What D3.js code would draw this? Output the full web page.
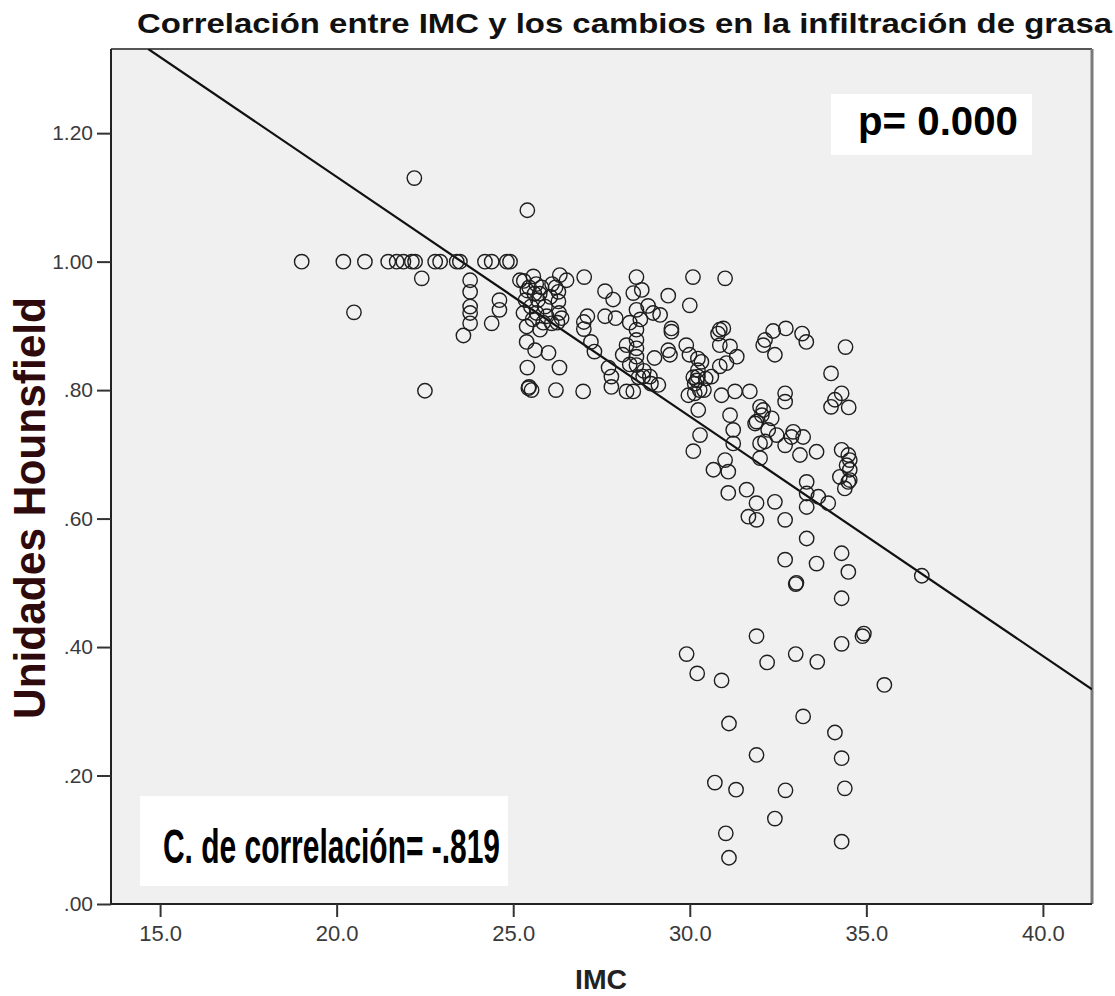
<!DOCTYPE html>
<html>
<head>
<meta charset="utf-8">
<script src="https://cdn.jsdelivr.net/npm/d3@7/dist/d3.min.js"></script>
<style>
  body { margin: 0; background: #fff; }
  svg { display: block; }
</style>
</head>
<body>
<svg></svg>
<script>
const w = 1115
const h = 996

// texts
const titulo = 'Correlación entre IMC y los cambios en la infiltración de grasa'
const etiquetaX = 'IMC'
const etiquetaY = 'Unidades Hounsfield'
const textoP = 'p= 0.000'
const textoCorrelacion = 'C. de correlación= -.819'

// ticks
const xTicks = [15, 20, 25, 30, 35, 40]
const yTicks = [0, 0.2, 0.4, 0.6, 0.8, 1.0, 1.2]

// fit line (y = a + b * x)
const rectaIntercepto = 1.878
const rectaPendiente = -0.0373

// points [IMC, UH], grouped by region of the plot
const puntosFila100 = [
  [19.01, 1.00], [20.19, 1.00], [20.80, 1.00], [21.46, 1.00], [21.70, 1.00], [21.89, 1.00],
  [22.13, 1.00], [22.22, 1.00], [22.79, 1.00], [22.93, 1.00], [23.40, 1.00], [23.49, 1.00],
  [24.20, 1.00], [24.39, 1.00], [24.82, 1.00], [24.91, 1.00]
]

const puntosIzquierda = [
  [22.20, 1.13], [25.40, 1.08], [22.41, 0.974], [23.78, 0.971], [23.78, 0.953], [23.78, 0.930],
  [23.78, 0.920], [23.78, 0.904], [24.61, 0.940], [24.61, 0.925], [24.39, 0.904], [23.59, 0.885],
  [20.49, 0.921], [22.50, 0.799]
]

const puntos25a27 = [
  [25.38, 0.875], [25.62, 0.862], [26.00, 0.858], [25.40, 0.835], [26.31, 0.835], [25.43, 0.803],
  [25.52, 0.800], [26.21, 0.800], [26.98, 0.798], [25.19, 0.971], [25.57, 0.977], [26.32, 0.979],
  [26.51, 0.971], [26.28, 0.953], [26.28, 0.938], [26.37, 0.912], [26.09, 0.904], [25.76, 0.894],
  [25.38, 0.899], [25.29, 0.920], [25.66, 0.920], [25.45, 0.960], [25.60, 0.950], [25.70, 0.940],
  [25.80, 0.960], [25.90, 0.930], [25.55, 0.910], [25.35, 0.940], [25.85, 0.905], [25.95, 0.915],
  [26.20, 0.960], [26.30, 0.920], [25.50, 0.930], [25.65, 0.965], [25.40, 0.955], [26.05, 0.945],
  [26.25, 0.905], [25.75, 0.950], [25.30, 0.970], [26.10, 0.965], [25.45, 0.805]
]

const puntos27a30 = [
  [27.01, 0.976], [28.49, 0.976], [27.60, 0.954], [27.83, 0.941], [28.40, 0.951], [28.64, 0.956],
  [28.82, 0.931], [28.96, 0.920], [29.16, 0.917], [27.10, 0.915], [27.00, 0.906], [27.00, 0.895],
  [27.60, 0.915], [27.90, 0.912], [28.49, 0.925], [28.49, 0.894], [28.49, 0.878], [28.49, 0.865],
  [28.49, 0.852], [28.49, 0.839], [28.21, 0.870], [29.39, 0.947], [29.48, 0.896], [29.48, 0.891],
  [29.39, 0.862], [29.44, 0.855], [27.78, 0.821], [27.78, 0.805], [28.21, 0.798], [28.40, 0.798],
  [28.68, 0.821], [28.87, 0.821], [29.11, 0.808], [28.30, 0.905], [28.60, 0.910], [28.30, 0.840],
  [28.55, 0.820], [28.70, 0.830], [27.30, 0.860], [27.20, 0.875], [28.10, 0.855], [29.00, 0.850],
  [27.70, 0.835], [28.90, 0.810]
]

const puntos30a32 = [
  [30.09, 0.976], [31.00, 0.974], [30.00, 0.932], [29.90, 0.870], [29.99, 0.855], [30.23, 0.849],
  [30.33, 0.844], [30.23, 0.831], [30.23, 0.821], [30.14, 0.810], [30.28, 0.800], [30.14, 0.795],
  [30.61, 0.821], [30.85, 0.894], [30.95, 0.896], [31.14, 0.868], [30.85, 0.870], [30.85, 0.837],
  [31.04, 0.842], [31.33, 0.852], [29.96, 0.792], [30.24, 0.769], [30.90, 0.792], [31.28, 0.798],
  [31.70, 0.798], [31.14, 0.761], [31.23, 0.738], [31.23, 0.717], [31.89, 0.751], [30.29, 0.730],
  [30.10, 0.705], [30.80, 0.888], [30.20, 0.815], [30.45, 0.818], [30.10, 0.820], [30.40, 0.800],
  [31.00, 0.691], [30.67, 0.676], [31.09, 0.673]
]

const puntos32a37 = [
  [32.36, 0.892], [32.72, 0.896], [32.13, 0.878], [32.08, 0.870], [32.41, 0.855], [33.18, 0.888],
  [33.30, 0.875], [34.41, 0.867], [34.00, 0.826], [34.30, 0.795], [34.11, 0.785], [34.00, 0.774],
  [34.50, 0.773], [31.99, 0.774], [32.08, 0.769], [32.04, 0.761], [31.85, 0.748], [32.32, 0.756],
  [32.46, 0.730], [32.22, 0.738], [31.99, 0.717], [32.13, 0.720], [31.99, 0.694], [32.70, 0.795],
  [32.70, 0.782], [32.93, 0.735], [32.88, 0.727], [33.21, 0.727], [32.70, 0.714], [33.12, 0.699],
  [33.59, 0.704], [34.30, 0.707], [34.49, 0.699], [34.53, 0.691], [34.44, 0.683], [34.53, 0.676],
  [34.25, 0.665], [34.49, 0.657], [34.39, 0.647], [34.53, 0.660], [33.31, 0.657], [33.31, 0.639],
  [33.31, 0.618], [33.64, 0.634], [33.92, 0.624], [31.61, 0.645], [31.89, 0.624], [32.41, 0.626],
  [31.09, 0.640], [31.66, 0.603], [31.89, 0.598], [32.70, 0.598], [33.31, 0.569], [32.70, 0.536],
  [33.59, 0.530], [34.30, 0.546], [34.49, 0.517], [36.57, 0.511], [34.30, 0.476], [33.00, 0.498],
  [33.02, 0.500]
]

const puntosBajos = [
  [31.89, 0.417], [34.89, 0.417], [34.93, 0.421], [34.30, 0.405], [29.91, 0.389], [33.00, 0.389],
  [32.19, 0.376], [33.61, 0.377], [30.21, 0.359], [30.90, 0.348], [35.51, 0.341], [31.11, 0.281],
  [33.21, 0.292], [34.11, 0.267], [31.89, 0.232], [34.30, 0.227], [30.71, 0.189], [31.31, 0.178],
  [32.71, 0.177], [34.39, 0.180], [32.41, 0.133], [31.02, 0.110], [31.11, 0.072], [34.30, 0.097]
]

const svg = d3.select('svg')
  .attr('width', w)
  .attr('height', h)

// plot box
const plot = { left: 111, top: 49, right: 1092, bottom: 904 }
const fontNarrow = '"Liberation Sans Narrow", "Arial Narrow", "Liberation Sans", Arial, sans-serif'
const fontSans = '"Liberation Sans", Arial, sans-serif'

const x = d3.scaleLinear().domain([13.61, 41.39]).range([plot.left, plot.right])
const y = d3.scaleLinear().domain([0, 1.331]).range([plot.bottom, plot.top])

const todos = [].concat(puntosFila100, puntosIzquierda, puntos25a27, puntos27a30, puntos30a32, puntos32a37, puntosBajos)

const drawBackground = () => {
  svg.append('rect')
    .attr('x', plot.left)
    .attr('y', plot.top)
    .attr('width', plot.right - plot.left)
    .attr('height', plot.bottom - plot.top)
    .attr('fill', '#f0f0f0')

  // top and right frame (grey)
  svg.append('line')
    .attr('x1', plot.left).attr('x2', plot.right)
    .attr('y1', plot.top).attr('y2', plot.top)
    .attr('stroke', '#555').attr('stroke-width', 2)
  svg.append('line')
    .attr('x1', plot.right).attr('x2', plot.right)
    .attr('y1', plot.top).attr('y2', plot.bottom)
    .attr('stroke', '#7a7a7a').attr('stroke-width', 3)

  svg.append('clipPath').attr('id', 'clip')
    .append('rect')
    .attr('x', plot.left).attr('y', plot.top)
    .attr('width', plot.right - plot.left)
    .attr('height', plot.bottom - plot.top)
}

const drawAxes = () => {
  const fmtY = d => d3.format('.2f')(d).replace(/^0\./, '.')
  const yAxis = d3.axisLeft(y).tickValues(yTicks).tickFormat(fmtY).tickSize(14).tickPadding(4)
  const xAxis = d3.axisBottom(x).tickValues(xTicks).tickFormat(d3.format('.1f')).tickSize(13).tickPadding(8)

  const gy = svg.append('g')
    .attr('transform', `translate(${plot.left},0)`)
    .call(yAxis)
  const gx = svg.append('g')
    .attr('transform', `translate(0,${plot.bottom})`)
    .call(xAxis)

  for (const g of [gx, gy]) {
    g.select('.domain').attr('stroke', '#222').attr('stroke-width', 2)
    g.selectAll('.tick line').attr('stroke', '#333').attr('stroke-width', 2)
    g.selectAll('.tick text')
      .attr('fill', '#3a3a3a')
      .style('font-family', fontSans)
      .style('font-size', '21px')
  }
  // spss style: axis lines without end caps
  gx.select('.domain').attr('d', `M${plot.left},0H${plot.right}`)
  gy.select('.domain').attr('d', `M0,${plot.bottom}V${plot.top}`)
  gx.selectAll('.tick text').style('font-family', fontNarrow).style('font-size', '22px')
}

const drawLine = () => {
  const x0 = (1.331 - rectaIntercepto) / rectaPendiente
  const x1 = 41.39
  svg.append('line')
    .attr('clip-path', 'url(#clip)')
    .attr('x1', x(x0)).attr('y1', y(rectaIntercepto + rectaPendiente * x0))
    .attr('x2', x(x1)).attr('y2', y(rectaIntercepto + rectaPendiente * x1))
    .attr('stroke', '#111')
    .attr('stroke-width', 2.2)
}

const drawPoints = () => {
  svg.append('g')
    .selectAll('circle')
    .data(todos)
    .enter()
    .append('circle')
    .attr('cx', d => x(d[0]))
    .attr('cy', d => y(d[1]))
    .attr('r', 7.2)
    .attr('fill', 'none')
    .attr('stroke', '#1e1e1e')
    .attr('stroke-width', 1.4)
}

const drawBoxes = () => {
  // p value
  svg.append('rect')
    .attr('x', 831).attr('y', 94).attr('width', 201).attr('height', 61)
    .attr('fill', '#fff')
  svg.append('text')
    .attr('x', 858).attr('y', 135)
    .attr('textLength', 160).attr('lengthAdjust', 'spacingAndGlyphs')
    .style('font-family', fontSans).style('font-weight', 'bold').style('font-size', '40px')
    .attr('fill', '#000')
    .text(textoP)

  // correlation
  svg.append('rect')
    .attr('x', 140).attr('y', 796).attr('width', 368).attr('height', 90)
    .attr('fill', '#fff')
  svg.append('text')
    .attr('x', 163).attr('y', 863)
    .attr('textLength', 337).attr('lengthAdjust', 'spacingAndGlyphs')
    .style('font-family', fontNarrow).style('font-weight', 'bold').style('font-size', '48px')
    .attr('fill', '#000')
    .text(textoCorrelacion)
}

const drawLabels = () => {
  svg.append('text')
    .attr('x', 137).attr('y', 33)
    .attr('textLength', 975).attr('lengthAdjust', 'spacingAndGlyphs')
    .style('font-family', fontSans).style('font-weight', 'bold').style('font-size', '27px')
    .attr('fill', '#111')
    .text(titulo)

  svg.append('text')
    .attr('x', 601).attr('y', 989)
    .attr('text-anchor', 'middle')
    .attr('textLength', 52).attr('lengthAdjust', 'spacingAndGlyphs')
    .style('font-family', fontNarrow).style('font-weight', 'bold').style('font-size', '27px')
    .attr('fill', '#222')
    .text(etiquetaX)

  svg.append('text')
    .attr('transform', `translate(45,508) rotate(-90)`)
    .attr('text-anchor', 'middle')
    .attr('textLength', 422).attr('lengthAdjust', 'spacingAndGlyphs')
    .style('font-family', fontNarrow).style('font-weight', 'bold').style('font-size', '44px')
    .attr('fill', '#2e0a0c')
    .text(etiquetaY)
}

drawBackground()
drawLine()
drawPoints()
drawAxes()
drawBoxes()
drawLabels()
</script>
</body>
</html>
